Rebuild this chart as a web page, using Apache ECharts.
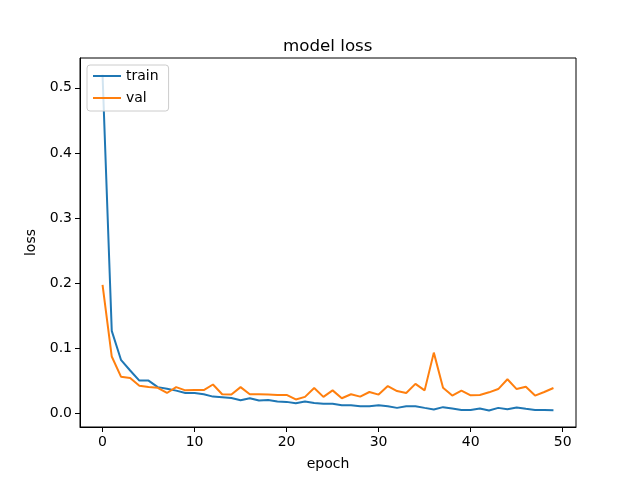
<!DOCTYPE html>
<html>
<head>
<meta charset="utf-8">
<script src="https://cdn.jsdelivr.net/npm/echarts@6/dist/echarts.min.js"></script>
<style>
html,body{margin:0;padding:0;background:#fff}
#chart_1{width:640px;height:480px}
</style>
</head>
<body>
<div id="chart_1"></div>
<script>
// epochs 0..49
var epochs = []
for (var i = 0; i < 50; i++) epochs.push(i)

var trainLoss = [0.520, 0.1265, 0.082, 0.0655, 0.050, 0.050, 0.040, 0.0376, 0.0346, 0.031,
                 0.031, 0.029, 0.0254, 0.0244, 0.0234, 0.0198, 0.0229, 0.0193, 0.0203, 0.0178,
                 0.0173, 0.0152, 0.0178, 0.0157, 0.0145, 0.0145, 0.0122, 0.012, 0.0107, 0.0107,
                 0.0122, 0.0107, 0.0081, 0.0107, 0.0107, 0.0081, 0.0056, 0.0092, 0.0071, 0.005,
                 0.005, 0.0071, 0.004, 0.0081, 0.006, 0.0086, 0.0066, 0.005, 0.005, 0.0045]
var valLoss = [0.197, 0.087, 0.056, 0.054, 0.042, 0.040, 0.039, 0.031, 0.040, 0.035,
               0.0355, 0.0355, 0.044, 0.029, 0.0285, 0.040, 0.029, 0.029, 0.0285, 0.028,
               0.028, 0.021, 0.025, 0.0386, 0.025, 0.035, 0.0229, 0.029, 0.0254, 0.0325,
               0.0285, 0.0417, 0.034, 0.031, 0.045, 0.035, 0.093, 0.039, 0.027, 0.0346,
               0.0274, 0.028, 0.032, 0.037, 0.052, 0.037, 0.0407, 0.027, 0.0325, 0.0386]
var xTicks = [0, 10, 20, 30, 40, 50]
var yTicks = [0, 0.1, 0.2, 0.3, 0.4, 0.5]

function pairs(ys) {
    var out = []
    for (var i = 0; i < ys.length; i++) out.push([epochs[i], ys[i]])
    return out
}

var font = 'DejaVu Sans'
var char1 = echarts.init(document.getElementById('chart_1'))
var option1 = {
    animation: false,
    backgroundColor: '#fff',
    title: {
        text: 'model loss',
        left: 278,
        top: 33,
        textStyle: { fontFamily: font, fontSize: 16.7, fontWeight: 'normal', color: '#000' }
    },
    legend: {
        data: ['train', 'val'],
        orient: 'vertical',
        left: 87,
        top: 65,
        icon: 'rect',
        itemWidth: 28,
        itemHeight: 2,
        itemGap: 8,
        padding: [4, 10, 6, 6],
        backgroundColor: 'rgba(255,255,255,0.8)',
        borderColor: '#cccccc',
        borderWidth: 1,
        borderRadius: 3,
        textStyle: { fontFamily: font, fontSize: 14, color: '#000' }
    },
    grid: {
        left: 80,
        right: 64,
        top: 58,
        bottom: 53,
        show: true,
        borderColor: '#000',
        borderWidth: 1
    },
    color: ['#1f77b4', '#ff7f0e'],
    xAxis: {
        type: 'value',
        min: -2.45,
        max: 51.45,
        name: 'epoch',
        nameLocation: 'middle',
        nameGap: 30,
        nameTextStyle: { fontFamily: font, fontSize: 14, color: '#000' },
        splitLine: { show: false },
        axisLine: { show: true, onZero: false, lineStyle: { color: '#000' } },
        axisTick: { show: true, inside: false, length: 5, customValues: xTicks, lineStyle: { color: '#000' } },
        axisLabel: { customValues: xTicks, fontFamily: font, fontSize: 14, color: '#000', margin: 8 }
    },
    yAxis: {
        type: 'value',
        min: -0.0213,
        max: 0.5458,
        name: 'loss',
        nameLocation: 'middle',
        nameGap: 38,
        nameTextStyle: { fontFamily: font, fontSize: 14, color: '#000' },
        splitLine: { show: false },
        axisLine: { show: true, onZero: false, lineStyle: { color: '#000' } },
        axisTick: { show: true, inside: false, length: 5, customValues: yTicks, lineStyle: { color: '#000' } },
        axisLabel: {
            customValues: yTicks, fontFamily: font, fontSize: 14, color: '#000', margin: 8,
            formatter: function (v) { return v.toFixed(1) }
        }
    },
    series: [
        { name: 'train', type: 'line', data: pairs(trainLoss), showSymbol: false, lineStyle: { width: 2 }, z: 2 },
        { name: 'val', type: 'line', data: pairs(valLoss), showSymbol: false, lineStyle: { width: 2 }, z: 3 }
    ]
}
char1.setOption(option1)
</script>
</body>
</html>
